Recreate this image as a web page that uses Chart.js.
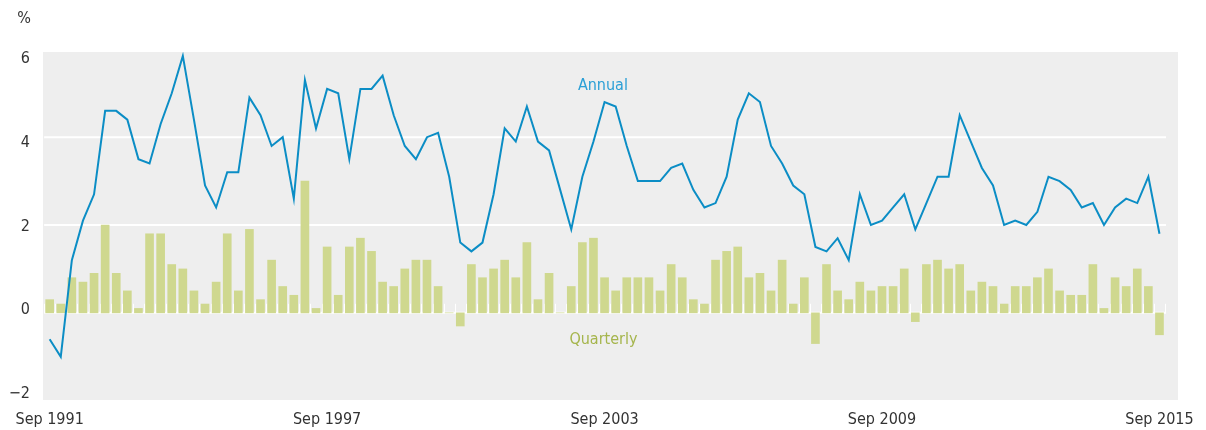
<!DOCTYPE html>
<html>
<head>
<meta charset="utf-8">
<script src="https://cdn.jsdelivr.net/npm/chart.js@4/dist/chart.umd.min.js"></script>
<style>
  html, body { margin: 0; padding: 0; background: #ffffff; }
  #wrap { width: 1206px; height: 430px; position: relative; }
</style>
</head>
<body>
<div id="wrap"><canvas id="c"></canvas></div>
<script>
// ---- data (quarterly) ----
const annual = [
  -0.6, -1.0, 1.2, 2.1, 2.7, 4.6, 4.6, 4.4, 3.5, 3.4,
  4.3, 5.0, 5.85, 4.4, 2.9, 2.4, 3.2, 3.2, 4.9, 4.5,
  3.8, 4.0, 2.6, 5.3, 4.2, 5.1, 5.0, 3.5, 5.1, 5.1,
  5.4, 4.5, 3.8, 3.5, 4.0, 4.1, 3.1, 1.6, 1.4, 1.6,
  2.7, 4.2, 3.9, 4.7, 3.9, 3.7, 2.8, 1.9, 3.1, 3.9,
  4.8, 4.7, 3.8, 3.0, 3.0, 3.0, 3.3, 3.4, 2.8, 2.4,
  2.5, 3.1, 4.4, 5.0, 4.8, 3.8, 3.4, 2.9, 2.7, 1.5,
  1.4, 1.7, 1.2, 2.7, 2.0, 2.1, 2.4, 2.7, 1.9, 2.5,
  3.1, 3.1, 4.5, 3.9, 3.3, 2.9, 2.0, 2.1, 2.0, 2.3,
  3.1, 3.0, 2.8, 2.4, 2.5, 2.0, 2.4, 2.6, 2.5, 3.1,
  1.8
];
const quarterly = [
  0.3, 0.2, 0.8, 0.7, 0.9, 2.0, 0.9, 0.5, 0.1, 1.8,
  1.8, 1.1, 1.0, 0.5, 0.2, 0.7, 1.8, 0.5, 1.9, 0.3,
  1.2, 0.6, 0.4, 3.0, 0.1, 1.5, 0.4, 1.5, 1.7, 1.4,
  0.7, 0.6, 1.0, 1.2, 1.2, 0.6, 0.0, -0.3, 1.1, 0.8,
  1.0, 1.2, 0.8, 1.6, 0.3, 0.9, 0.0, 0.6, 1.6, 1.7,
  0.8, 0.5, 0.8, 0.8, 0.8, 0.5, 1.1, 0.8, 0.3, 0.2,
  1.2, 1.4, 1.5, 0.8, 0.9, 0.5, 1.2, 0.2, 0.8, -0.7,
  1.1, 0.5, 0.3, 0.7, 0.5, 0.6, 0.6, 1.0, -0.2, 1.1,
  1.2, 1.0, 1.1, 0.5, 0.7, 0.6, 0.2, 0.6, 0.6, 0.8,
  1.0, 0.5, 0.4, 0.4, 1.1, 0.1, 0.8, 0.6, 1.0, 0.6,
  -0.5
];
const xTickPositions = [0, 25, 50, 75, 100];
const xTickLabels = ['Sep 1991', 'Sep 1997', 'Sep 2003', 'Sep 2009', 'Sep 2015'];
const yTickValues = [-2, 0, 2, 4, 6];
const gridValues = [0, 2, 4];
const seriesNames = ['Annual', 'Quarterly'];
const unitLabel = '%';

// ---- styling ----
const FONT = '"Liberation Sans Narrow", "DejaVu Sans Condensed", "Liberation Sans", sans-serif';
const FONT_SIZE = 16;
const LINE_COLOR = '#0b8dc5';
const BAR_COLOR = '#cfd88f';
const ANNUAL_TEXT = '#2b9fd6';
const QUARTERLY_TEXT = '#a5b54c';
const TEXT_COLOR = '#333333';

const lineData = annual.map((v, i) => ({ x: i, y: v }));
const barData = quarterly.map((v, i) => ({ x: i, y: v }));

const decor = {
  id: 'decor',
  beforeDatasetsDraw(chart) {
    const { ctx, chartArea: a, scales } = chart;
    const x = scales.x, y = scales.y;
    ctx.save();
    ctx.fillStyle = '#eeeeee';
    ctx.fillRect(a.left, a.top, a.right - a.left, a.bottom - a.top);
    const first = 0, last = annual.length - 1;
    const x0 = x.getPixelForValue(first - 0.5);
    const x1 = x.getPixelForValue(last + 0.5) + 1;
    ctx.strokeStyle = '#ffffff';
    ctx.lineWidth = 2;
    gridValues.forEach(v => {
      const py = y.getPixelForValue(v);
      ctx.beginPath();
      ctx.moveTo(x0, py);
      ctx.lineTo(x1, py);
      ctx.stroke();
    });
    // small white category ticks above zero line
    const yz = y.getPixelForValue(0);
    ctx.lineWidth = 1;
    ctx.beginPath();
    for (let i = first; i <= last + 1; i++) {
      const px = Math.round(x.getPixelForValue(i - 0.5)) + 0.5;
      ctx.moveTo(px, yz - 9);
      ctx.lineTo(px, yz);
    }
    ctx.stroke();
    ctx.restore();
  },
  afterDraw(chart) {
    const { ctx, scales } = chart;
    const x = scales.x, y = scales.y;
    ctx.save();
    ctx.font = FONT_SIZE + 'px ' + FONT;
    ctx.textAlign = 'center';
    ctx.textBaseline = 'middle';
    ctx.fillStyle = ANNUAL_TEXT;
    ctx.fillText(seriesNames[0], x.getPixelForValue(49.85), y.getPixelForValue(5.17));
    ctx.fillStyle = QUARTERLY_TEXT;
    ctx.fillText(seriesNames[1], x.getPixelForValue(49.9), y.getPixelForValue(-0.62));
    ctx.fillStyle = TEXT_COLOR;
    ctx.textAlign = 'right';
    ctx.fillText(unitLabel, scales.y2.right - 12, 19);
    ctx.restore();
  }
};

new Chart(document.getElementById('c'), {
  data: {
    datasets: [
      {
        type: 'line',
        label: seriesNames[0],
        data: lineData,
        borderColor: LINE_COLOR,
        borderWidth: 2,
        pointRadius: 0,
        tension: 0,
        fill: false,
        order: 0,
        yAxisID: 'y',
        xAxisID: 'x'
      },
      {
        type: 'bar',
        label: seriesNames[1],
        data: barData,
        backgroundColor: BAR_COLOR,
        borderWidth: 0,
        barThickness: 8,
        order: 1,
        yAxisID: 'y',
        xAxisID: 'x'
      }
    ]
  },
  options: {
    responsive: true,
    maintainAspectRatio: false,
    animation: false,
    layout: { padding: { top: 52, right: 28, left: 0, bottom: 0 } },
    plugins: { legend: { display: false }, tooltip: { enabled: false } },
    font: { family: FONT },
    scales: {
      x: {
        type: 'linear',
        position: 'bottom',
        offset: false,
        min: -0.6,
        max: 101.67,
        grid: { display: false, drawTicks: false, offset: false },
        border: { display: false },
        afterBuildTicks(scale) {
          scale.ticks = xTickPositions.map(v => ({ value: v }));
        },
        afterFit(scale) { scale.height = 30; },
        ticks: {
          autoSkip: false,
          maxRotation: 0,
          padding: 10,
          color: TEXT_COLOR,
          font: { family: FONT, size: FONT_SIZE },
          callback(value) {
            const k = xTickPositions.indexOf(value);
            return k >= 0 ? xTickLabels[k] : '';
          }
        }
      },
      y: {
        type: 'linear',
        display: false,
        min: -1.985,
        max: 5.94
      },
      y2: {
        type: 'linear',
        position: 'left',
        min: -2.15,
        max: 6.168,
        grid: { display: false, drawTicks: false },
        border: { display: false },
        afterBuildTicks(scale) {
          scale.ticks = yTickValues.map(v => ({ value: v }));
        },
        afterFit(scale) { scale.width = 43; },
        ticks: {
          padding: 13,
          color: TEXT_COLOR,
          font: { family: FONT, size: FONT_SIZE },
          callback(value) {
            return value < 0 ? '\u2212' + Math.abs(value) : String(value);
          }
        }
      }
    }
  },
  plugins: [decor]
});
</script>
</body>
</html>
